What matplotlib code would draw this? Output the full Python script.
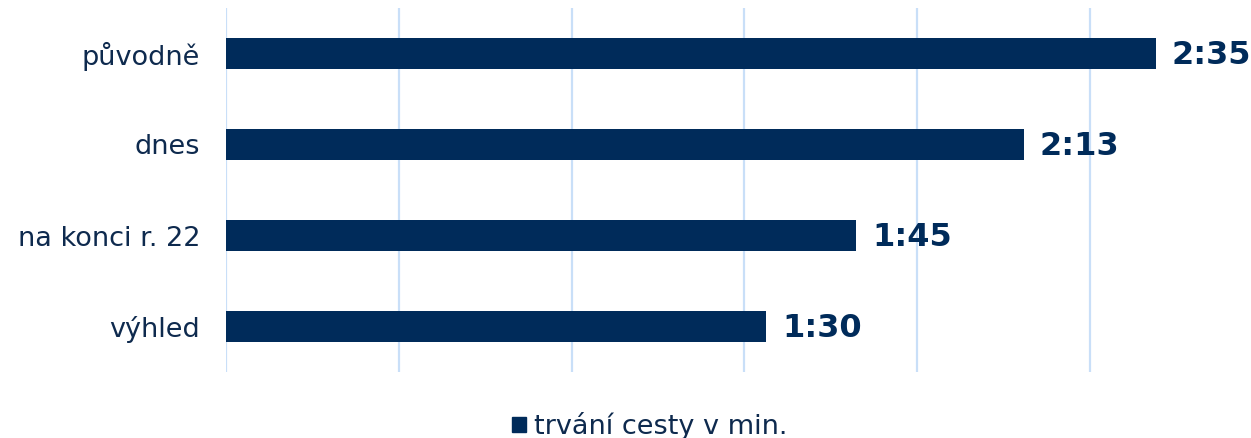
import matplotlib
matplotlib.use("Agg")
import matplotlib.pyplot as plt
from matplotlib.patches import Patch

categories = ["původně", "dnes", "na konci r. 22", "výhled"]
minutes = [155, 133, 105, 90]
series_name = "trvání cesty v min."

bar_color = "#002B5A"
text_color = "#0E2A4E"
grid_color = "#C9DFF8"

fig = plt.figure(figsize=(12.51, 4.38), dpi=100)
ax = fig.add_axes([226/1251, 1-372/438, 1-226/1251, (372-8)/438])

y = list(range(len(categories)))
ax.barh(y, minutes, height=0.35, color=bar_color, zorder=3)
ax.set_ylim(3.5, -0.5)
ax.set_xlim(0, 1025/6)
ax.set_xticks([28.8*i for i in range(6)])
ax.xaxis.grid(True, color=grid_color, linewidth=1.6, zorder=0)
ax.tick_params(axis="x", length=0, labelbottom=False)
ax.set_yticks(y)
ax.set_yticklabels(categories, fontsize=19.5, color=text_color)
ax.tick_params(axis="y", length=0, pad=18.5)
for s in ax.spines.values():
    s.set_visible(False)

for yi, m in zip(y, minutes):
    ax.annotate(f"{m//60}:{m%60:02d}", (m, yi), xytext=(16, -2), textcoords="offset pixels",
                va="center", ha="left", fontsize=23, fontweight="bold", color=bar_color)

fig.legend(handles=[Patch(color=bar_color, label=series_name)], loc="center",
           bbox_to_anchor=(650/1251, 1-426/438), frameon=False, fontsize=19.5,
           handlelength=0.5, handleheight=0.5, handletextpad=0.3, labelcolor=text_color)

fig.savefig("out.png", dpi=100)
